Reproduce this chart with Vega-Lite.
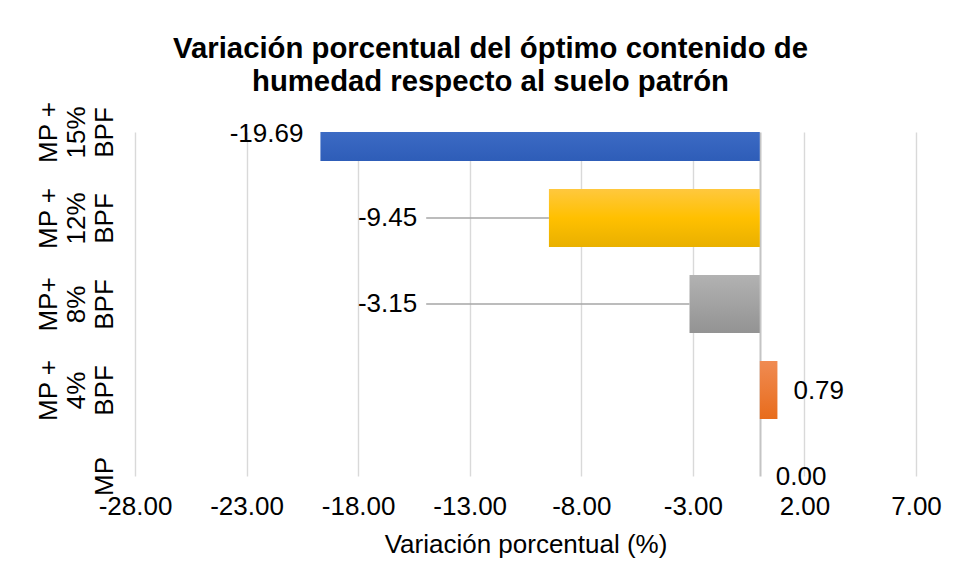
{
  "$schema": "https://vega.github.io/schema/vega-lite/v6.json",
  "width": 781,
  "height": 344,
  "autosize": {"type": "none"},
  "padding": {"left": 135, "top": 132, "right": 50, "bottom": 112},
  "background": "white",
  "config": {
    "view": {"stroke": null},
    "locale": {"number": {"decimal": ".", "thousands": ",", "grouping": [3], "currency": ["$", ""], "minus": "-"}}
  },
  "title": {
    "text": ["Variación porcentual del óptimo contenido de", "humedad respecto al suelo patrón"],
    "font": "Liberation Sans",
    "fontSize": 29.3,
    "fontWeight": "bold",
    "color": "#000000",
    "lineHeight": 33,
    "anchor": "middle",
    "dx": -35,
    "offset": 4
  },
  "data": {
    "values": [
      {"muestra": "MP + 15% BPF", "variacion": -19.69},
      {"muestra": "MP + 12% BPF", "variacion": -9.45},
      {"muestra": "MP+ 8% BPF", "variacion": -3.15},
      {"muestra": "MP + 4% BPF", "variacion": 0.79},
      {"muestra": "MP", "variacion": 0.0}
    ]
  },
  "encoding": {
    "y": {
      "field": "muestra",
      "type": "nominal",
      "sort": ["MP + 15% BPF", "MP + 12% BPF", "MP+ 8% BPF", "MP + 4% BPF", "MP"],
      "scale": {"type": "point", "padding": 0},
      "axis": {
        "title": null,
        "domain": false,
        "ticks": false,
        "grid": false,
        "labelExpr": "split(replace(datum.label, regexp(' (\\\\d+%) '), '|$1|'), '|')",
        "labelAngle": 270,
        "labelAlign": "center",
        "labelBaseline": "bottom",
        "labelPadding": {"condition": {"test": "datum.value === 'MP'", "value": 18}, "value": 74},
        "labelFont": "Liberation Sans",
        "labelFontSize": 26,
        "labelLineHeight": 28,
        "labelColor": "#000000"
      }
    }
  },
  "layer": [
    {
      "mark": {"type": "bar", "size": 58, "clip": true},
      "encoding": {
        "x": {
          "field": "variacion",
          "type": "quantitative",
          "scale": {"domain": [-28, 7], "nice": false, "zero": false},
          "axis": {
            "values": [-28, -23, -18, -13, -8, -3, 0, 2, 7],
            "labelExpr": "datum.value === 0 ? '' : format(datum.value, '.2f')",
            "labelOverlap": false,
            "labelFlush": false,
            "labelBound": false,
            "domain": false,
            "ticks": false,
            "tickSize": 0,
            "labelPadding": 17,
            "labelFont": "Liberation Sans",
            "labelFontSize": 26,
            "labelColor": "#000000",
            "grid": true,
            "gridColor": {"condition": {"test": "datum.value === 0", "value": "#c4c4c4"}, "value": "#d9d9d9"},
            "gridWidth": {"condition": {"test": "datum.value === 0", "value": 2}, "value": 1.4},
            "title": "Variación porcentual (%)",
            "titleFont": "Liberation Sans",
            "titleFontSize": 26,
            "titleFontWeight": "normal",
            "titleColor": "#000000",
            "titlePadding": 12
          }
        },
        "fill": {
          "condition": [
            {"test": "datum.muestra === 'MP + 15% BPF'", "value": {"gradient": "linear", "x1": 0, "y1": 0, "x2": 0, "y2": 1, "stops": [{"offset": 0, "color": "#4a78d0"}, {"offset": 1, "color": "#2e5db8"}]}},
            {"test": "datum.muestra === 'MP + 12% BPF'", "value": {"gradient": "linear", "x1": 0, "y1": 0, "x2": 0, "y2": 1, "stops": [{"offset": 0, "color": "#ffc83e"}, {"offset": 0.5, "color": "#ffc000"}, {"offset": 1, "color": "#e9b000"}]}},
            {"test": "datum.muestra === 'MP+ 8% BPF'", "value": {"gradient": "linear", "x1": 0, "y1": 0, "x2": 0, "y2": 1, "stops": [{"offset": 0, "color": "#b2b2b2"}, {"offset": 1, "color": "#939393"}]}}
          ],
          "value": {"gradient": "linear", "x1": 0, "y1": 0, "x2": 0, "y2": 1, "stops": [{"offset": 0, "color": "#f08b52"}, {"offset": 1, "color": "#e86c1c"}]}
        }
      }
    },
    {
      "transform": [{"filter": "datum.variacion < 0 && datum.variacion > -15"}],
      "mark": {"type": "rule", "color": "#a6a6a6", "strokeWidth": 1.5},
      "encoding": {
        "x": {"field": "variacion", "type": "quantitative"},
        "x2": {"datum": -14.95}
      }
    },
    {
      "transform": [{"filter": "datum.variacion <= -15"}],
      "mark": {"type": "text", "align": "right", "baseline": "middle", "dx": -17, "dy": 2, "font": "Liberation Sans", "fontSize": 26, "color": "#000000"},
      "encoding": {
        "x": {"field": "variacion", "type": "quantitative"},
        "text": {"field": "variacion", "type": "quantitative", "format": ".2f"}
      }
    },
    {
      "transform": [{"filter": "datum.variacion < 0 && datum.variacion > -15"}],
      "mark": {"type": "text", "align": "right", "baseline": "middle", "dx": -9, "font": "Liberation Sans", "fontSize": 26, "color": "#000000"},
      "encoding": {
        "x": {"datum": -14.95, "type": "quantitative"},
        "text": {"field": "variacion", "type": "quantitative", "format": ".2f"}
      }
    },
    {
      "transform": [{"filter": "datum.variacion >= 0"}],
      "mark": {"type": "text", "align": "left", "baseline": "middle", "dx": 16, "dy": 1, "font": "Liberation Sans", "fontSize": 26, "color": "#000000"},
      "encoding": {
        "x": {"field": "variacion", "type": "quantitative"},
        "text": {"field": "variacion", "type": "quantitative", "format": ".2f"}
      }
    }
  ]
}
